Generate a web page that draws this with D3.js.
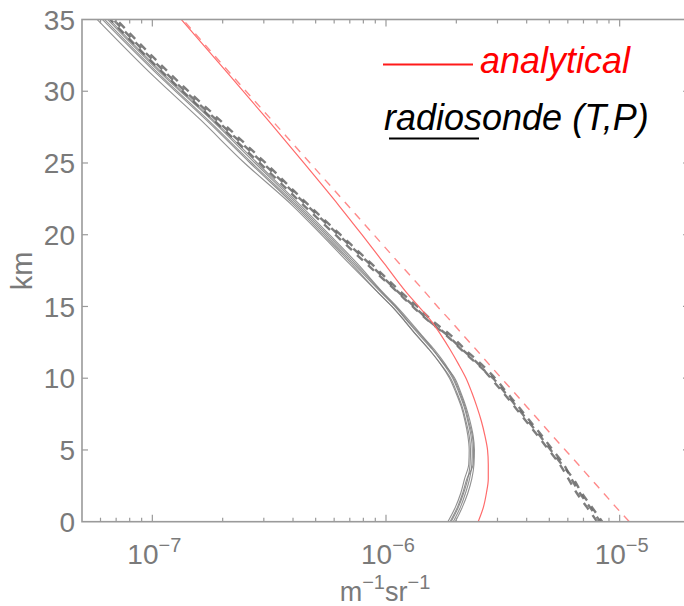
<!DOCTYPE html>
<html>
<head>
<meta charset="utf-8">
<script src="https://cdn.jsdelivr.net/npm/d3@7"></script>
<style>
  body { margin: 0; background: #fff; }
  svg { display: block; font-family: "Liberation Sans", Arial, sans-serif; }
</style>
</head>
<body>
<svg id="chart" width="684" height="606"></svg>
<script>
// altitude grid (km) shared by all profiles
const heights = [0, 1, 2, 3, 4, 5, 6, 7, 8, 9, 10, 11, 12, 13, 14, 15, 16, 18, 20, 22, 25, 28, 31, 35];

// analytical model (red)
const analyticalBeta = [1.10e-5, 9.66e-6, 8.53e-6, 7.52e-6, 6.64e-6, 5.85e-6, 5.15e-6, 4.55e-6, 4.01e-6, 3.54e-6, 3.12e-6, 2.75e-6, 2.43e-6, 2.14e-6, 1.89e-6, 1.66e-6, 1.47e-6, 1.14e-6, 8.87e-7, 6.90e-7, 4.73e-7, 3.24e-7, 2.22e-7, 1.35e-7];
const analyticalAtt = [2.48e-6, 2.61e-6, 2.69e-6, 2.74e-6, 2.74e-6, 2.72e-6, 2.65e-6, 2.56e-6, 2.45e-6, 2.33e-6, 2.20e-6, 2.04e-6, 1.88e-6, 1.72e-6, 1.56e-6, 1.38e-6, 1.22e-6, 9.82e-7, 7.89e-7, 6.31e-7, 4.45e-7, 3.12e-7, 2.17e-7, 1.33e-7];

// radiosonde (T,P) profiles, attenuated (solid, gray)
const sondeAttA = [1.84e-6, 1.98e-6, 2.09e-6, 2.17e-6, 2.26e-6, 2.27e-6, 2.24e-6, 2.18e-6, 2.10e-6, 1.99e-6, 1.87e-6, 1.71e-6, 1.53e-6, 1.35e-6, 1.20e-6, 1.06e-6, 9.21e-7, 6.95e-7, 5.29e-7, 4.00e-7, 2.48e-7, 1.61e-7, 1.02e-7, 5.81e-8];
const sondeAttB = [1.94e-6, 2.08e-6, 2.19e-6, 2.28e-6, 2.33e-6, 2.34e-6, 2.31e-6, 2.24e-6, 2.16e-6, 2.05e-6, 1.93e-6, 1.76e-6, 1.58e-6, 1.39e-6, 1.23e-6, 1.09e-6, 9.49e-7, 7.24e-7, 5.51e-7, 4.17e-7, 2.67e-7, 1.73e-7, 1.10e-7, 6.25e-8];
const sondeAttC = [1.90e-6, 2.04e-6, 2.15e-6, 2.24e-6, 2.29e-6, 2.30e-6, 2.27e-6, 2.20e-6, 2.12e-6, 2.01e-6, 1.89e-6, 1.71e-6, 1.53e-6, 1.35e-6, 1.20e-6, 1.06e-6, 9.21e-7, 7.10e-7, 5.40e-7, 4.09e-7, 2.62e-7, 1.70e-7, 1.08e-7, 6.12e-8];
const sondeAttD = [1.98e-6, 2.12e-6, 2.24e-6, 2.33e-6, 2.38e-6, 2.39e-6, 2.36e-6, 2.29e-6, 2.20e-6, 2.09e-6, 1.97e-6, 1.77e-6, 1.59e-6, 1.41e-6, 1.24e-6, 1.10e-6, 9.59e-7, 7.38e-7, 5.62e-7, 4.25e-7, 2.75e-7, 1.79e-7, 1.13e-7, 6.44e-8];
const sondeAttE = [1.88e-6, 2.02e-6, 2.13e-6, 2.22e-6, 2.36e-6, 2.37e-6, 2.34e-6, 2.26e-6, 2.18e-6, 2.07e-6, 1.95e-6, 1.79e-6, 1.61e-6, 1.42e-6, 1.26e-6, 1.11e-6, 9.68e-7, 7.53e-7, 5.73e-7, 4.34e-7, 2.81e-7, 1.82e-7, 1.15e-7, 6.56e-8];

// radiosonde (T,P) profiles, backscatter (dashed, gray)
const sondeBetaF = [8.01e-6, 7.25e-6, 6.55e-6, 6.03e-6, 5.54e-6, 4.97e-6, 4.46e-6, 3.98e-6, 3.56e-6, 3.17e-6, 2.81e-6, 2.48e-6, 2.12e-6, 1.83e-6, 1.53e-6, 1.32e-6, 1.13e-6, 8.47e-7, 6.25e-7, 4.62e-7, 2.97e-7, 1.88e-7, 1.19e-7, 6.81e-8];
const sondeBetaG = [8.25e-6, 7.47e-6, 6.75e-6, 6.21e-6, 5.76e-6, 5.17e-6, 4.64e-6, 4.14e-6, 3.70e-6, 3.29e-6, 2.93e-6, 2.55e-6, 2.18e-6, 1.89e-6, 1.58e-6, 1.36e-6, 1.16e-6, 8.64e-7, 6.38e-7, 4.71e-7, 3.05e-7, 1.94e-7, 1.23e-7, 7.01e-8];
const sondeBetaH = [8.42e-6, 7.62e-6, 6.88e-6, 6.33e-6, 5.65e-6, 5.07e-6, 4.55e-6, 4.06e-6, 3.63e-6, 3.23e-6, 2.87e-6, 2.45e-6, 2.10e-6, 1.81e-6, 1.52e-6, 1.30e-6, 1.12e-6, 8.22e-7, 6.07e-7, 4.48e-7, 2.88e-7, 1.83e-7, 1.16e-7, 6.61e-8];

const yTicks = [0, 5, 10, 15, 20, 25, 30, 35];
const xMajor = [1e-7, 1e-6, 1e-5];
const xMajorExp = ["\u22127", "\u22126", "\u22125"];

const svg = d3.select("#chart");
const W = 684, H = 606;
const PLOT = { LEFT: 82, RIGHT: 690, TOP: 19.5, BOTTOM: 521.7 };

const x = d3.scaleLog().domain([5e-8, 2e-5]).range([PLOT.LEFT, PLOT.RIGHT]);
const y = d3.scaleLinear().domain([0, 35]).range([PLOT.BOTTOM, PLOT.TOP]);

svg.append("rect").attr("width", W).attr("height", H).attr("fill", "#fff");

svg.append("defs").append("clipPath").attr("id", "plotClip")
  .append("rect")
  .attr("x", PLOT.LEFT).attr("y", PLOT.TOP)
  .attr("width", PLOT.RIGHT - PLOT.LEFT).attr("height", PLOT.BOTTOM - PLOT.TOP);

const line = d3.line()
  .x((d) => x(d[0]))
  .y((d) => y(d[1]))
  .curve(d3.curveMonotoneY);

function profile(values) {
  return values.map((v, i) => [v, heights[i]]);
}

const gLines = svg.append("g").attr("clip-path", "url(#plotClip)");

// gray solid bundle
[sondeAttA, sondeAttB, sondeAttC, sondeAttD, sondeAttE].forEach((vals) => {
  gLines.append("path")
    .attr("d", line(profile(vals)))
    .attr("fill", "none")
    .attr("stroke", "#7c7c7c")
    .attr("stroke-width", 1.1)
    .attr("stroke-opacity", 0.85);
});

// gray dashed bundle
[sondeBetaF, sondeBetaG, sondeBetaH].forEach((vals, i) => {
  gLines.append("path")
    .attr("d", line(profile(vals)))
    .attr("fill", "none")
    .attr("stroke", "#666")
    .attr("stroke-width", 2.4)
    .attr("stroke-dasharray", "8,7")
    .attr("stroke-dashoffset", i * 2)
    .attr("stroke-opacity", 0.85);
});

// analytical
gLines.append("path")
  .attr("d", line(profile(analyticalAtt)))
  .attr("fill", "none")
  .attr("stroke", "#ff6b6b")
  .attr("stroke-width", 1.2);

gLines.append("path")
  .attr("d", line(profile(analyticalBeta)))
  .attr("fill", "none")
  .attr("stroke", "#ff8a8a")
  .attr("stroke-width", 1.4)
  .attr("stroke-dasharray", "8,7");

// frame and ticks
const axisColor = "#9a9a9a";
const labelColor = "#7a7a7a";

svg.append("rect")
  .attr("x", PLOT.LEFT).attr("y", PLOT.TOP)
  .attr("width", PLOT.RIGHT - PLOT.LEFT).attr("height", PLOT.BOTTOM - PLOT.TOP)
  .attr("fill", "none")
  .attr("stroke", axisColor)
  .attr("stroke-width", 1.6);

const xTicks = [];
[-8, -7, -6, -5].forEach((e) => {
  for (let m = 1; m <= 9; m++) {
    const v = m * Math.pow(10, e);
    if (v > 5.01e-8 && v < 1.99e-5) xTicks.push({ v, major: m === 1 });
  }
});

const gTicks = svg.append("g").attr("stroke", axisColor).attr("stroke-width", 1.2);

gTicks.selectAll("line.xb").data(xTicks).join("line")
  .attr("class", "xb")
  .attr("x1", (d) => x(d.v)).attr("x2", (d) => x(d.v))
  .attr("y1", PLOT.BOTTOM).attr("y2", (d) => PLOT.BOTTOM - (d.major ? 7 : 4));

gTicks.selectAll("line.xt").data(xTicks).join("line")
  .attr("class", "xt")
  .attr("x1", (d) => x(d.v)).attr("x2", (d) => x(d.v))
  .attr("y1", PLOT.TOP).attr("y2", (d) => PLOT.TOP + (d.major ? 7 : 4));

gTicks.selectAll("line.yl").data(yTicks.slice(1, -1)).join("line")
  .attr("class", "yl")
  .attr("x1", PLOT.LEFT).attr("x2", PLOT.LEFT + 6)
  .attr("y1", (d) => y(d)).attr("y2", (d) => y(d));

gTicks.selectAll("line.yr").data(yTicks.slice(1, -1)).join("line")
  .attr("class", "yr")
  .attr("x1", PLOT.RIGHT).attr("x2", PLOT.RIGHT - 7)
  .attr("y1", (d) => y(d)).attr("y2", (d) => y(d));

// y labels
svg.append("g").selectAll("text").data(yTicks).join("text")
  .attr("x", 75)
  .attr("y", (d) => y(d))
  .attr("dy", "0.36em")
  .attr("text-anchor", "end")
  .attr("font-size", 28)
  .attr("fill", labelColor)
  .text((d) => d);

// x labels 10^n
const xl = svg.append("g").selectAll("text").data(xMajor).join("text")
  .attr("x", (d) => x(d) + 2)
  .attr("y", 564)
  .attr("text-anchor", "middle")
  .attr("font-size", 28)
  .attr("fill", labelColor);
xl.append("tspan").text("10");
xl.append("tspan")
  .attr("dy", -12)
  .attr("font-size", 20)
  .text((d, i) => xMajorExp[i]);

// axis titles
const xt = svg.append("text")
  .attr("x", 385)
  .attr("y", 601)
  .attr("text-anchor", "middle")
  .attr("font-size", 27)
  .attr("fill", labelColor);
xt.append("tspan").text("m");
xt.append("tspan").attr("dy", -12).attr("font-size", 20).text("\u22121");
xt.append("tspan").attr("dy", 12).text("sr");
xt.append("tspan").attr("dy", -12).attr("font-size", 20).text("\u22121");

svg.append("text")
  .attr("transform", "translate(22,271) rotate(-90)")
  .attr("text-anchor", "middle")
  .attr("dy", "0.36em")
  .attr("font-size", 29)
  .attr("fill", labelColor)
  .text("km");

// legend
svg.append("line")
  .attr("x1", 383).attr("x2", 473)
  .attr("y1", 64.5).attr("y2", 64.5)
  .attr("stroke", "#ff1a1a")
  .attr("stroke-width", 1.8);

svg.append("text")
  .attr("x", 480)
  .attr("y", 72.5)
  .attr("font-size", 36)
  .attr("font-style", "italic")
  .attr("fill", "#ff0000")
  .text("analytical");

svg.append("text")
  .attr("x", 384)
  .attr("y", 130)
  .attr("font-size", 36)
  .attr("font-style", "italic")
  .attr("fill", "#000")
  .text("radiosonde (T,P)");

svg.append("line")
  .attr("x1", 389).attr("x2", 479)
  .attr("y1", 138.5).attr("y2", 138.5)
  .attr("stroke", "#000")
  .attr("stroke-width", 2);
</script>
</body>
</html>
